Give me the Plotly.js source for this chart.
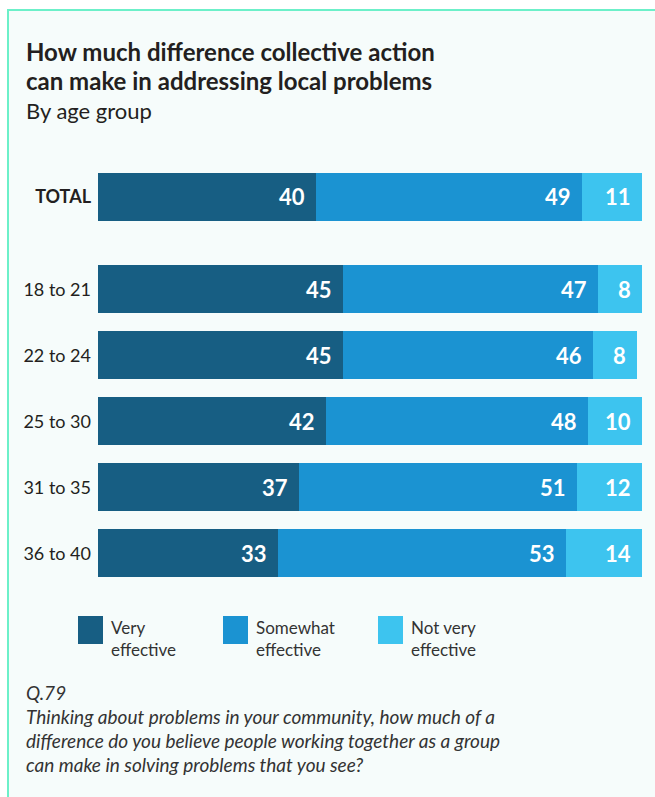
<!DOCTYPE html>
<html><head><meta charset="utf-8">
<script src="https://cdn.plot.ly/plotly-3.0.1.min.js"></script>
<style>html,body{margin:0;padding:0;background:#fff}</style>
</head><body><div id="chart" style="width:655px;height:797px"></div>
<script>
// ---- data ----
const categories = ["TOTAL", "18 to 21", "22 to 24", "25 to 30", "31 to 35", "36 to 40"];
const rowPos = [-1.4, 0, 1, 2, 3, 4];
const seriesNames = ["Very<br>effective", "Somewhat<br>effective", "Not very<br>effective"];
const veryEffective = [40, 45, 45, 42, 37, 33];
const somewhatEffective = [49, 47, 46, 48, 51, 53];
const notVeryEffective = [11, 8, 8, 10, 12, 14];
const colors = ["#175e83", "#1b93d2", "#3dc4ef"];
const titleLines = ["How much difference collective action", "can make in addressing local problems"];
const subtitle = "By age group";
const noteLines = ["Q.79", "Thinking about problems in your community, how much of a",
  "difference do you believe people working together as a group", "can make in solving problems that you see?"];

// ---- layout helpers ----
const W = 655, H = 797, ML = 98, MR = 13, MT = 160, MB = 207;
const PW = W - ML - MR, PH = H - MT - MB;
const px = x => (x - ML) / PW;
const py = y => (H - MB - y) / PH;
const FONT = "Lato, 'Noto Sans', sans-serif";

const series = [veryEffective, somewhatEffective, notVeryEffective];
const traces = series.map((vals, i) => ({
  type: "bar", orientation: "h", name: seriesNames[i],
  x: vals, y: rowPos, width: 0.727,
  marker: {color: colors[i], line: {width: 0}},
  hoverinfo: "none", showlegend: false
}));

const annotations = [];
// value labels at the right end of each segment
rowPos.forEach((y, r) => {
  let cum = 0;
  series.forEach((vals, i) => {
    cum += vals[r];
    annotations.push({x: cum, y: y, xref: "x", yref: "y", text: "<b>" + vals[r] + "</b>",
      showarrow: false, xanchor: "right", yanchor: "middle", xshift: -9,
      font: {family: FONT, size: 22, color: "#ffffff"}});
  });
});
// title
const tY = [51, 81];
titleLines.forEach((t, i) => annotations.push({x: px(26), y: py(tY[i]), xref: "paper", yref: "paper",
  text: "<b>" + t + "</b>", showarrow: false, xanchor: "left", yanchor: "middle", xshift: -2,
  font: {family: FONT, size: 24, color: "#231f20"}}));
annotations.push({x: px(26), y: py(110), xref: "paper", yref: "paper", text: subtitle, showarrow: false,
  xanchor: "left", yanchor: "middle", xshift: -2, font: {family: FONT, size: 22, color: "#231f20"}});
// notes
const nY = [692, 716, 740, 764];
noteLines.forEach((t, i) => annotations.push({x: px(26), y: py(nY[i]), xref: "paper", yref: "paper",
  text: "<i>" + t + "</i>", showarrow: false, xanchor: "left", yanchor: "middle", xshift: -2,
  font: {family: FONT, size: 19, color: "#333333"}}));
// legend
const legX = [78, 223, 378];
const shapes = [
  {type: "rect", xref: "paper", yref: "paper", x0: px(0), x1: px(W), y0: py(0), y1: py(9), fillcolor: "#ffffff", line: {width: 0}, layer: "below"},
  {type: "rect", xref: "paper", yref: "paper", x0: px(0), x1: px(7), y0: py(0), y1: py(H), fillcolor: "#ffffff", line: {width: 0}, layer: "below"},
  {type: "line", xref: "paper", yref: "paper", x0: px(7), x1: px(W), y0: py(10), y1: py(10), line: {color: "#6cf0c9", width: 2}},
  {type: "line", xref: "paper", yref: "paper", x0: px(8), x1: px(8), y0: py(9), y1: py(H), line: {color: "#6cf0c9", width: 2}}
];
legX.forEach((lx, i) => {
  shapes.push({type: "rect", xref: "paper", yref: "paper", x0: px(lx), x1: px(lx + 25),
    y0: py(644), y1: py(616), fillcolor: colors[i], line: {width: 0}});
  annotations.push({x: px(lx + 31), y: py(638), xref: "paper", yref: "paper", text: seriesNames[i],
    showarrow: false, xanchor: "left", yanchor: "middle", align: "left",
    font: {family: FONT, size: 17, color: "#333333"}});
});

const layout = {
  width: W, height: H, barmode: "stack",
  margin: {l: ML, r: MR, t: MT, b: MB, pad: 0},
  paper_bgcolor: "#f6fcfb", plot_bgcolor: "rgba(0,0,0,0)",
  showlegend: false,
  xaxis: {range: [0, 100], visible: false, fixedrange: true},
  yaxis: {range: [4.555, -1.96], tickvals: rowPos,
    ticktext: categories.map((c, i) => i === 0 ? "<b>" + c + "</b>" : c),
    showgrid: false, zeroline: false, showline: false, ticks: "", ticklabelstandoff: 6,
    tickfont: {family: FONT, size: 18, color: "#231f20"}, fixedrange: true},
  annotations: annotations, shapes: shapes,
  font: {family: FONT}
};
Plotly.newPlot("chart", traces, layout, {displayModeBar: false, staticPlot: true});
</script></body></html>
